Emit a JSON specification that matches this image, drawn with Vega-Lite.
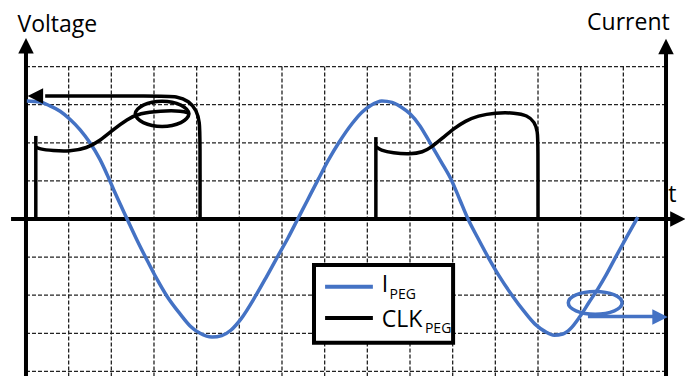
{
 "$schema": "https://vega.github.io/schema/vega-lite/v6.json",
 "width": 685, "height": 376, "autosize": "none", "padding": 0,
 "background": "white",
 "config": {"view": {"stroke": null}},
 "datasets": {
  "grid": [
   {"x":0,"x2":15,"y":4,"y2":4},{"x":0,"x2":15,"y":3,"y2":3},{"x":0,"x2":15,"y":2,"y2":2},{"x":0,"x2":15,"y":1,"y2":1},
   {"x":0,"x2":15,"y":-1,"y2":-1},{"x":0,"x2":15,"y":-2,"y2":-2},{"x":0,"x2":15,"y":-3,"y2":-3},{"x":0,"x2":15,"y":-4,"y2":-4},
   {"x":1,"x2":1,"y":4,"y2":-4.3},{"x":2,"x2":2,"y":4,"y2":-4.3},{"x":3,"x2":3,"y":4,"y2":-4.3},{"x":4,"x2":4,"y":4,"y2":-4.3},
   {"x":5,"x2":5,"y":4,"y2":-4.3},{"x":6,"x2":6,"y":4,"y2":-4.3},{"x":7,"x2":7,"y":4,"y2":-4.3},{"x":8,"x2":8,"y":4,"y2":-4.3},
   {"x":9,"x2":9,"y":4,"y2":-4.3},{"x":10,"x2":10,"y":4,"y2":-4.3},{"x":11,"x2":11,"y":4,"y2":-4.3},{"x":12,"x2":12,"y":4,"y2":-4.3},
   {"x":13,"x2":13,"y":4,"y2":-4.3},{"x":14,"x2":14,"y":4,"y2":-4.3}
  ],
  "axes": [
   {"x":0,"x2":0,"y":-4.3,"y2":4.4},
   {"x":15,"x2":15,"y":-4.3,"y2":4.4},
   {"x":-0.35,"x2":15.2,"y":0,"y2":0}
  ],
  "arrows": [
   {"x":0,"y":4.55,"dir":"up","s":"axis"},
   {"x":15,"y":4.53,"dir":"up","s":"axis"},
   {"x":15.28,"y":0,"dir":"right","s":"axis"},
   {"x":0.22,"y":3.23,"dir":"left","s":"CLK"},
   {"x":14.86,"y":-2.57,"dir":"right","s":"I"}
  ],
  "blue": [
   {"id":"I","s":"I","i":0,"x":0.02,"y":3.10},
   {"id":"I","s":"I","i":1,"x":0.33,"y":3.07},
   {"id":"I","s":"I","i":2,"x":0.56,"y":2.97},
   {"id":"I","s":"I","i":3,"x":0.80,"y":2.83},
   {"id":"I","s":"I","i":4,"x":1.03,"y":2.62},
   {"id":"I","s":"I","i":5,"x":1.27,"y":2.34},
   {"id":"I","s":"I","i":6,"x":1.50,"y":2.00},
   {"id":"I","s":"I","i":7,"x":1.73,"y":1.57},
   {"id":"I","s":"I","i":8,"x":1.90,"y":1.17},
   {"id":"I","s":"I","i":9,"x":2.09,"y":0.68},
   {"id":"I","s":"I","i":10,"x":2.37,"y":0.00},
   {"id":"I","s":"I","i":11,"x":2.60,"y":-0.55},
   {"id":"I","s":"I","i":12,"x":2.81,"y":-1.02},
   {"id":"I","s":"I","i":13,"x":3.07,"y":-1.58},
   {"id":"I","s":"I","i":14,"x":3.30,"y":-2.02},
   {"id":"I","s":"I","i":15,"x":3.61,"y":-2.49},
   {"id":"I","s":"I","i":16,"x":3.84,"y":-2.80},
   {"id":"I","s":"I","i":17,"x":4.08,"y":-3.00},
   {"id":"I","s":"I","i":18,"x":4.36,"y":-3.10},
   {"id":"I","s":"I","i":19,"x":4.59,"y":-3.06},
   {"id":"I","s":"I","i":20,"x":4.80,"y":-2.92},
   {"id":"I","s":"I","i":21,"x":5.04,"y":-2.62},
   {"id":"I","s":"I","i":22,"x":5.37,"y":-2.04},
   {"id":"I","s":"I","i":23,"x":5.62,"y":-1.55},
   {"id":"I","s":"I","i":24,"x":5.88,"y":-1.02},
   {"id":"I","s":"I","i":25,"x":6.14,"y":-0.50},
   {"id":"I","s":"I","i":26,"x":6.37,"y":0.00},
   {"id":"I","s":"I","i":27,"x":6.60,"y":0.50},
   {"id":"I","s":"I","i":28,"x":6.84,"y":1.02},
   {"id":"I","s":"I","i":29,"x":7.09,"y":1.55},
   {"id":"I","s":"I","i":30,"x":7.33,"y":2.00},
   {"id":"I","s":"I","i":31,"x":7.64,"y":2.50},
   {"id":"I","s":"I","i":32,"x":7.88,"y":2.81},
   {"id":"I","s":"I","i":33,"x":8.08,"y":2.98},
   {"id":"I","s":"I","i":34,"x":8.34,"y":3.10},
   {"id":"I","s":"I","i":35,"x":8.58,"y":3.06},
   {"id":"I","s":"I","i":36,"x":8.79,"y":2.94},
   {"id":"I","s":"I","i":37,"x":9.00,"y":2.76},
   {"id":"I","s":"I","i":38,"x":9.23,"y":2.45},
   {"id":"I","s":"I","i":39,"x":9.47,"y":2.00},
   {"id":"I","s":"I","i":40,"x":9.73,"y":1.50},
   {"id":"I","s":"I","i":41,"x":9.98,"y":1.00},
   {"id":"I","s":"I","i":42,"x":10.17,"y":0.50},
   {"id":"I","s":"I","i":43,"x":10.36,"y":0.00},
   {"id":"I","s":"I","i":44,"x":10.59,"y":-0.50},
   {"id":"I","s":"I","i":45,"x":10.83,"y":-1.00},
   {"id":"I","s":"I","i":46,"x":11.08,"y":-1.48},
   {"id":"I","s":"I","i":47,"x":11.39,"y":-2.00},
   {"id":"I","s":"I","i":48,"x":11.67,"y":-2.42},
   {"id":"I","s":"I","i":49,"x":11.93,"y":-2.76},
   {"id":"I","s":"I","i":50,"x":12.16,"y":-2.95},
   {"id":"I","s":"I","i":51,"x":12.38,"y":-3.05},
   {"id":"I","s":"I","i":52,"x":12.58,"y":-3.02},
   {"id":"I","s":"I","i":53,"x":12.76,"y":-2.88},
   {"id":"I","s":"I","i":54,"x":12.97,"y":-2.58},
   {"id":"I","s":"I","i":55,"x":13.20,"y":-2.18},
   {"id":"I","s":"I","i":56,"x":13.40,"y":-1.84},
   {"id":"I","s":"I","i":57,"x":13.60,"y":-1.46},
   {"id":"I","s":"I","i":58,"x":13.82,"y":-1.00},
   {"id":"I","s":"I","i":59,"x":14.08,"y":-0.47},
   {"id":"I","s":"I","i":60,"x":14.34,"y":0.05},
   {"id":"Iarrow","s":"I","i":0,"x":13.17,"y":-2.56},
   {"id":"Iarrow","s":"I","i":1,"x":14.74,"y":-2.56}
  ],
  "black": [
   {"id":"c1v","s":"CLK","i":0,"x":0.23,"y":0},
   {"id":"c1v","s":"CLK","i":1,"x":0.23,"y":2.18},
   {"id":"c1r","s":"CLK","i":0,"x":0.23,"y":1.89},
   {"id":"c1r","s":"CLK","i":1,"x":0.30,"y":1.84},
   {"id":"c1r","s":"CLK","i":2,"x":0.63,"y":1.79},
   {"id":"c1r","s":"CLK","i":3,"x":1.03,"y":1.77},
   {"id":"c1r","s":"CLK","i":4,"x":1.43,"y":1.86},
   {"id":"c1r","s":"CLK","i":5,"x":1.73,"y":2.05},
   {"id":"c1r","s":"CLK","i":6,"x":2.04,"y":2.34},
   {"id":"c1r","s":"CLK","i":7,"x":2.37,"y":2.62},
   {"id":"c1r","s":"CLK","i":8,"x":2.67,"y":2.78},
   {"id":"c1r","s":"CLK","i":9,"x":3.14,"y":2.84},
   {"id":"c1r","s":"CLK","i":10,"x":3.68,"y":2.84},
   {"id":"c1r","s":"CLK","i":11,"x":3.80,"y":2.78},
   {"id":"c1f","s":"CLK","i":0,"x":4.08,"y":0},
   {"id":"c1f","s":"CLK","i":1,"x":4.08,"y":2.10},
   {"id":"c1f","s":"CLK","i":2,"x":4.07,"y":2.55},
   {"id":"c1f","s":"CLK","i":3,"x":4.00,"y":2.85},
   {"id":"c1f","s":"CLK","i":4,"x":3.82,"y":3.10},
   {"id":"c1f","s":"CLK","i":5,"x":3.54,"y":3.22},
   {"id":"c1f","s":"CLK","i":6,"x":3.14,"y":3.23},
   {"id":"c1f","s":"CLK","i":7,"x":0.45,"y":3.23},
   {"id":"c2v","s":"CLK","i":0,"x":8.20,"y":0},
   {"id":"c2v","s":"CLK","i":1,"x":8.20,"y":2.15},
   {"id":"c2","s":"CLK","i":0,"x":8.21,"y":1.89},
   {"id":"c2","s":"CLK","i":1,"x":8.30,"y":1.81},
   {"id":"c2","s":"CLK","i":2,"x":8.60,"y":1.73},
   {"id":"c2","s":"CLK","i":3,"x":9.00,"y":1.70},
   {"id":"c2","s":"CLK","i":4,"x":9.30,"y":1.75},
   {"id":"c2","s":"CLK","i":5,"x":9.51,"y":1.89},
   {"id":"c2","s":"CLK","i":6,"x":9.77,"y":2.13},
   {"id":"c2","s":"CLK","i":7,"x":10.05,"y":2.39},
   {"id":"c2","s":"CLK","i":8,"x":10.29,"y":2.57},
   {"id":"c2","s":"CLK","i":9,"x":10.59,"y":2.71},
   {"id":"c2","s":"CLK","i":10,"x":10.99,"y":2.79},
   {"id":"c2","s":"CLK","i":11,"x":11.46,"y":2.79},
   {"id":"c2","s":"CLK","i":12,"x":11.75,"y":2.72},
   {"id":"c2","s":"CLK","i":13,"x":11.92,"y":2.55},
   {"id":"c2","s":"CLK","i":14,"x":11.99,"y":2.30},
   {"id":"c2","s":"CLK","i":15,"x":12.00,"y":2.00},
   {"id":"c2","s":"CLK","i":16,"x":12.00,"y":0}
  ],
  "ellipses": [
   {"id":"e1","s":"CLK","i":0,"x":3.82,"y":2.76},
   {"id":"e1","s":"CLK","i":1,"x":3.63,"y":2.99},
   {"id":"e1","s":"CLK","i":2,"x":3.19,"y":3.09},
   {"id":"e1","s":"CLK","i":3,"x":2.75,"y":2.99},
   {"id":"e1","s":"CLK","i":4,"x":2.56,"y":2.76},
   {"id":"e1","s":"CLK","i":5,"x":2.75,"y":2.53},
   {"id":"e1","s":"CLK","i":6,"x":3.19,"y":2.43},
   {"id":"e1","s":"CLK","i":7,"x":3.63,"y":2.53},
   {"id":"e2","s":"I","i":0,"x":13.97,"y":-2.20},
   {"id":"e2","s":"I","i":1,"x":13.79,"y":-1.99},
   {"id":"e2","s":"I","i":2,"x":13.34,"y":-1.90},
   {"id":"e2","s":"I","i":3,"x":12.89,"y":-1.99},
   {"id":"e2","s":"I","i":4,"x":12.71,"y":-2.20},
   {"id":"e2","s":"I","i":5,"x":12.89,"y":-2.41},
   {"id":"e2","s":"I","i":6,"x":13.34,"y":-2.50},
   {"id":"e2","s":"I","i":7,"x":13.79,"y":-2.41}
  ],
  "legendbox": [{"x":6.75,"x2":10.01,"y":-1.21,"y2":-3.25}],
  "legendlines": [
   {"x":7.01,"x2":8.13,"y":-1.78,"y2":-1.78,"s":"I"},
   {"x":7.01,"x2":8.13,"y":-2.60,"y2":-2.60,"s":"CLK"}
  ],
  "labels": [
   {"x":-0.20,"y":4.91,"t":"Voltage"},
   {"x":13.15,"y":4.96,"t":"Current"},
   {"x":15.05,"y":0.45,"t":"t"},
   {"x":8.34,"y":-1.92,"t":"I"},
   {"x":8.34,"y":-2.83,"t":"CLK"}
  ],
  "subs": [
   {"x":8.52,"y":-2.10,"t":"PEG"},
   {"x":9.35,"y":-2.99,"t":"PEG"}
  ]
 },
 "encoding": {
  "x": {"field": "x", "type": "quantitative", "scale": {"domain": [-0.609, 15.445], "nice": false, "zero": false}, "axis": null},
  "y": {"field": "y", "type": "quantitative", "scale": {"domain": [-4.121, 5.748], "nice": false, "zero": false}, "axis": null}
 },
 "layer": [
  {"data": {"name": "grid"}, "mark": {"type": "rule", "strokeDash": [4, 2], "strokeWidth": 1.3, "color": "#222"},
   "encoding": {"x2": {"field": "x2"}, "y2": {"field": "y2"}}},
  {"data": {"name": "axes"}, "mark": {"type": "rule", "strokeWidth": 4, "color": "black"},
   "encoding": {"x2": {"field": "x2"}, "y2": {"field": "y2"}}},
  {"data": {"name": "blue"}, "mark": {"type": "line", "strokeWidth": 3.5, "interpolate": "monotone"},
   "encoding": {
    "detail": {"field": "id"},
    "order": {"field": "i", "type": "quantitative"},
    "color": {"field": "s", "type": "nominal", "scale": {"domain": ["I", "CLK", "axis"], "range": ["#4472C4", "#000000", "#000000"]}, "legend": null}
   }},
  {"data": {"name": "black"}, "mark": {"type": "line", "strokeWidth": 3.5, "interpolate": "basis"},
   "encoding": {
    "detail": {"field": "id"},
    "order": {"field": "i", "type": "quantitative"},
    "color": {"field": "s", "type": "nominal", "scale": {"domain": ["I", "CLK", "axis"], "range": ["#4472C4", "#000000", "#000000"]}, "legend": null}
   }},
  {"data": {"name": "ellipses"}, "mark": {"type": "line", "strokeWidth": 3.5, "interpolate": "cardinal-closed"},
   "encoding": {
    "detail": {"field": "id"},
    "order": {"field": "i", "type": "quantitative"},
    "color": {"field": "s", "type": "nominal", "scale": {"domain": ["I", "CLK", "axis"], "range": ["#4472C4", "#000000", "#000000"]}, "legend": null}
   }},
  {"data": {"name": "arrows"}, "mark": {"type": "point", "filled": true, "size": 240, "opacity": 1, "strokeWidth": 0},
   "encoding": {
    "shape": {"field": "dir", "type": "nominal", "scale": {"domain": ["up", "left", "right"], "range": ["M0,-1L1,1L-1,1Z", "M-1,0L1,-1L1,1Z", "M1,0L-1,-1L-1,1Z"]}, "legend": null},
    "color": {"field": "s", "type": "nominal", "scale": {"domain": ["I", "CLK", "axis"], "range": ["#4472C4", "#000000", "#000000"]}, "legend": null}
   }},
  {"data": {"name": "legendbox"}, "mark": {"type": "rect", "fill": "white", "stroke": "black", "strokeWidth": 4},
   "encoding": {"x2": {"field": "x2"}, "y2": {"field": "y2"}}},
  {"data": {"name": "legendlines"}, "mark": {"type": "rule", "strokeWidth": 4},
   "encoding": {"x2": {"field": "x2"}, "y2": {"field": "y2"},
    "color": {"field": "s", "type": "nominal", "scale": {"domain": ["I", "CLK", "axis"], "range": ["#4472C4", "#000000", "#000000"]}, "legend": null}}},
  {"data": {"name": "labels"}, "mark": {"type": "text", "align": "left", "baseline": "alphabetic", "font": "Open Sans", "fontSize": 23, "color": "black"},
   "encoding": {"text": {"field": "t"}}},
  {"data": {"name": "subs"}, "mark": {"type": "text", "align": "left", "baseline": "alphabetic", "font": "Open Sans", "fontSize": 14, "color": "black"},
   "encoding": {"text": {"field": "t"}}}
 ]
}
